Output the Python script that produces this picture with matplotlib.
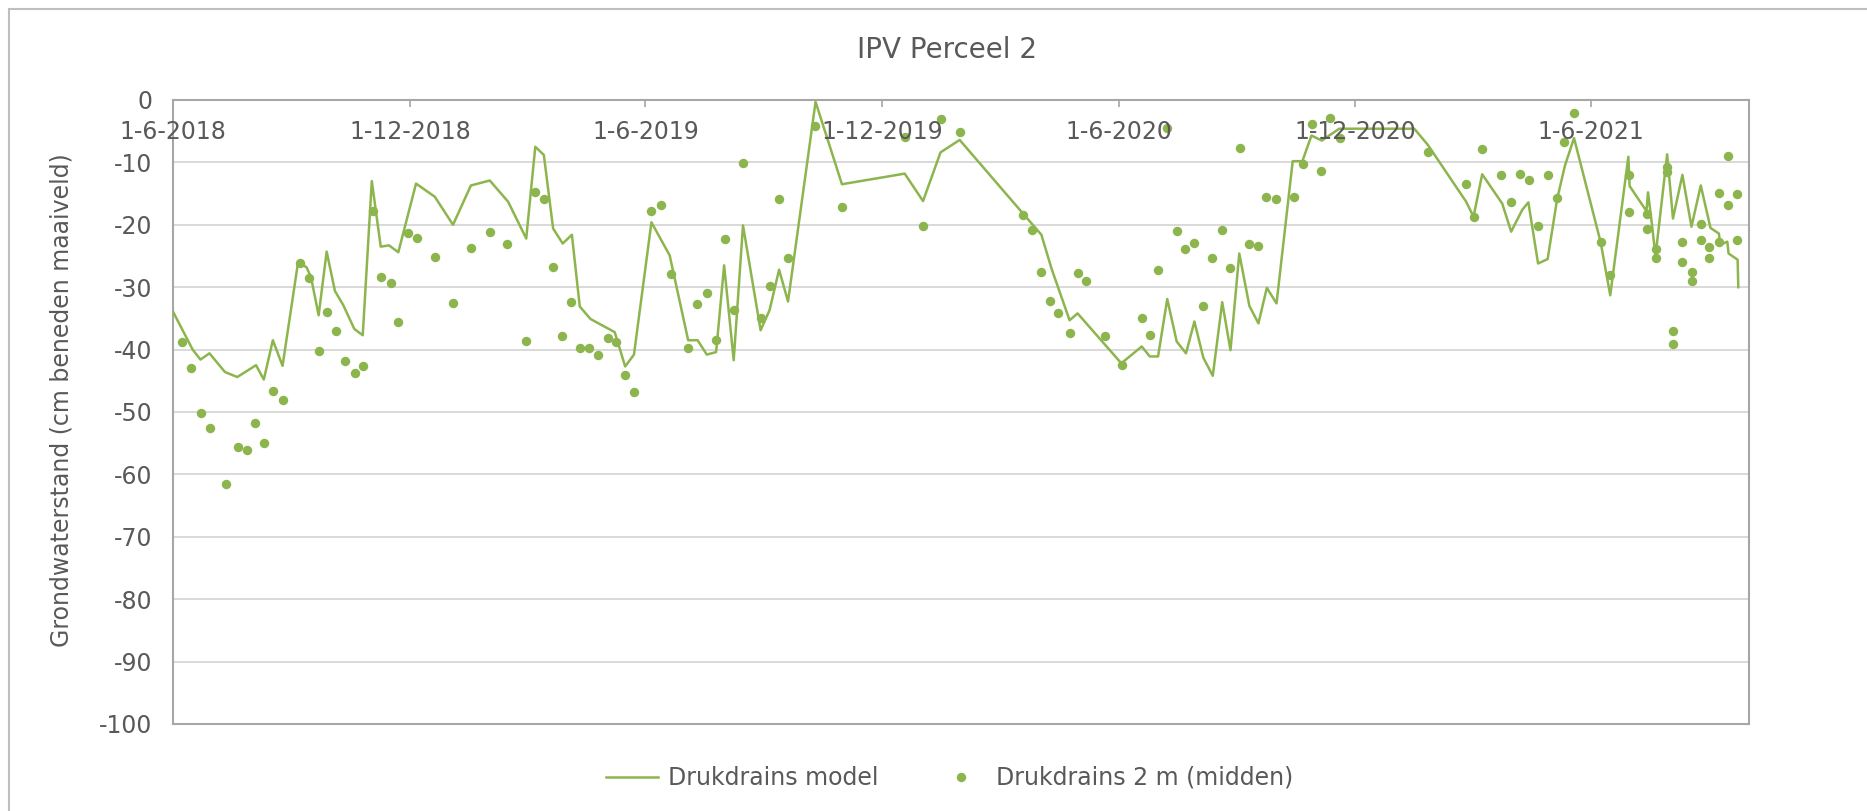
import matplotlib
matplotlib.use("Agg")
import matplotlib.pyplot as plt
import matplotlib.transforms as mtransforms
from matplotlib.patches import Rectangle
import pandas as pd

plt.rcParams['font.family'] = ['DejaVu Sans']
plt.rcParams['axes.unicode_minus'] = False

START = pd.Timestamp("2018-06-01")

# Drukdrains model: days since 1-6-2018 and groundwater level (cm)
model_days = [0, 15, 21, 28, 40, 49.5, 64, 70, 77, 84.5, 96.5, 103, 106.5, 112.4, 118.6,
              125, 131.5, 140, 146.5, 153.5, 160.4, 166.8, 174, 187.7, 202.2, 216.3,
              230.1, 244.7, 258.9, 272.9, 279.9, 286.5, 293.7, 301.1, 308.2, 314.3,
              322.6, 341.3, 349.4, 356.2, 369.7, 383.8, 398.1, 405.4, 412.5, 419.7,
              425.9, 433.3, 440.5, 454.1, 461, 468.4, 475.3, 496.6, 517, 565.5, 579.7,
              593.2, 608, 657, 671.2, 679, 693, 699.2, 733, 748.8, 755, 761.4, 768.5,
              775.8, 783, 789.5, 796.4, 803.7, 811, 817.4, 824.2, 832, 839, 845.5, 853,
              865.5, 873, 880, 888, 901.5, 959.5, 970, 999.6, 1005.3, 1012, 1027.5,
              1034.4, 1043, 1047.7, 1055.2, 1062.6, 1070, 1076, 1083, 1103.6, 1111,
              1125, 1126, 1139, 1140.2, 1143, 1146, 1155, 1159.5, 1166.8, 1173.8, 1181,
              1188.5, 1195, 1196, 1201.5, 1202.5, 1209.5, 1210]
model_level = [-34.0, -40.0, -41.6, -40.6, -43.6, -44.4, -42.5, -44.8, -38.5, -42.6, -26.0,
               -26.8, -28.4, -34.5, -24.3, -30.6, -32.9, -36.7, -37.7, -13.0, -23.5, -23.3,
               -24.4, -13.4, -15.5, -20.0, -13.7, -12.9, -16.3, -22.2, -7.5, -8.8, -20.6,
               -23.0, -21.6, -33.1, -35.1, -37.2, -42.7, -40.8, -19.6, -24.9, -38.5, -38.5,
               -40.8, -40.4, -26.5, -41.7, -20.1, -36.9, -33.7, -27.2, -32.3, -0.3, -13.5,
               -11.8, -16.2, -8.4, -6.4, -18.2, -21.6, -27.0, -35.3, -34.2, -42.2, -39.5,
               -41.1, -41.1, -31.9, -38.7, -40.6, -35.5, -41.3, -44.2, -32.4, -40.1, -24.6,
               -33.0, -35.8, -30.1, -32.6, -9.8, -9.8, -5.7, -6.5, -4.6, -4.6, -7.2, -16.3,
               -18.7, -11.9, -16.6, -21.1, -17.6, -16.4, -26.2, -25.5, -15.8, -10.5, -6.1,
               -22.8, -31.3, -9.1, -13.8, -17.8, -14.8, -19.5, -25.0, -8.7, -19.0, -12.0,
               -20.3, -13.7, -20.5, -21.4, -23.2, -22.7, -24.6, -25.6, -30.0]

# Drukdrains 2 m (midden): measurements
obs_days = [6.7, 13.9, 21.7, 28.4, 41, 50, 56.7, 63.4, 69.9, 77.1, 84.5, 98, 105.2, 112.4,
            118.8, 126, 133, 140.2, 146.9, 154.1, 160.8, 168, 174, 181.3, 188.8, 202.2,
            216.4, 230.2, 244.7, 258.2, 272.8, 279.6, 286.4, 293.7, 300.9, 307.8, 314.3,
            321.4, 328.7, 336.2, 342.1, 349.4, 356.4, 369.6, 377.3, 384.5, 398, 405, 412.4,
            419.6, 426.3, 433.2, 440.4, 454.1, 461, 468.3, 475.2, 496.3, 517, 565.4, 579.6,
            593.3, 607.9, 657.3, 664, 671.2, 677.6, 683.8, 693, 699.5, 705.8, 720, 733.4,
            748.9, 755.1, 761.3, 768.2, 775.7, 782.6, 789.1, 796.3, 803.3, 810.7, 817.2,
            824.4, 831.4, 838.6, 845, 852.5, 866.4, 873.2, 880.2, 887.7, 894.7, 901.8, 970,
            999.2, 1005.3, 1011.7, 1026.7, 1034.4, 1041.2, 1048.2, 1055.2, 1062.5, 1069.7,
            1075.5, 1083.1, 1103.9, 1111, 1125.8, 1125.8, 1139.8, 1139.8, 1146, 1146,
            1154.8, 1154.8, 1159.7, 1159.7, 1166.7, 1166.7, 1174, 1174, 1181.2, 1181.2,
            1187.6, 1187.6, 1194.9, 1195.2, 1202, 1202, 1209.2, 1209.2]
obs_level = [-38.8, -43.0, -50.1, -52.6, -61.6, -55.6, -56.1, -51.8, -55.0, -46.7, -48.1,
             -26.2, -28.5, -40.3, -33.9, -37.0, -41.8, -43.8, -42.6, -17.8, -28.3, -29.4,
             -35.6, -21.3, -22.1, -25.1, -32.6, -23.7, -21.2, -23.0, -38.6, -14.8, -15.8,
             -26.8, -37.9, -32.4, -39.8, -39.8, -40.8, -38.2, -38.8, -44.1, -46.8, -17.8,
             -16.9, -27.9, -39.8, -32.7, -31.0, -38.4, -22.3, -33.7, -10.1, -35.0, -29.8,
             -15.8, -25.4, -4.1, -17.2, -6.0, -20.2, -3.0, -5.2, -18.4, -20.8, -27.5, -32.2,
             -34.2, -37.4, -27.8, -29.0, -37.8, -42.4, -35.0, -37.6, -27.2, -4.5, -21.0,
             -23.9, -22.9, -33.0, -25.4, -20.8, -27.0, -7.7, -23.1, -23.4, -15.5, -15.8,
             -15.5, -10.3, -3.9, -11.4, -2.9, -6.1, -8.3, -13.5, -18.7, -7.9, -12.0, -16.3,
             -11.8, -12.9, -20.2, -12.0, -15.7, -6.8, -2.1, -22.7, -28.0, -12.0, -18.0,
             -18.3, -20.6, -23.8, -25.4, -10.8, -11.6, -37.0, -39.1, -22.7, -25.9, -27.5,
             -29.0, -19.8, -22.5, -23.6, -25.4, -14.9, -22.7, -9.0, -16.9, -15.1, -22.5]

tick_dates = ["2018-06-01", "2018-12-01", "2019-06-01", "2019-12-01",
              "2020-06-01", "2020-12-01", "2021-06-01"]
tick_labels = ["1-6-2018", "1-12-2018", "1-6-2019", "1-12-2019",
               "1-6-2020", "1-12-2020", "1-6-2021"]
y_ticks = list(range(-100, 1, 10))

GREEN = '#8DB54E'
TEXT = '#595959'
GRID = '#D9D9D9'
AXIS = '#A6A6A6'

model_x = START + pd.to_timedelta(model_days, unit='D')
obs_x = START + pd.to_timedelta(obs_days, unit='D')

fig = plt.figure(figsize=(18.67, 8.11), dpi=100)
ax = fig.add_axes([0.0928, 0.1073, 0.9366 - 0.0928, 0.8767 - 0.1073])

ax.plot(model_x, model_level, color=GREEN, lw=1.8, label='Drukdrains model', zorder=3)
ax.plot(obs_x, obs_level, 'o', color=GREEN, ms=6.8, mew=0,
        label='Drukdrains 2 m (midden)', zorder=4)

ax.set_xlim(START, pd.Timestamp("2021-10-01"))
ax.set_ylim(-100, 0)

ax.set_yticks(y_ticks)
ax.set_yticklabels([str(v) for v in y_ticks])
ax.tick_params(axis='y', length=0, pad=15, labelsize=17, labelcolor=TEXT)
ax.yaxis.grid(True, color=GRID, lw=1.4)
ax.set_axisbelow(True)

# date axis sits at 0 (top of the plot); labels hang just below it
ticks = pd.to_datetime(tick_dates)
ax.set_xticks(ticks)
ax.tick_params(axis='x', top=True, bottom=False, labeltop=False, labelbottom=False,
               direction='in', length=5, width=1.2, color=AXIS)
trans = mtransforms.blended_transform_factory(ax.transData, ax.transAxes)
for t, lab in zip(ticks, tick_labels):
    ax.text(t, 1 - 32 / 624, lab, transform=trans, ha='center', va='center',
            fontsize=17, color=TEXT, zorder=5)

for side in ['left', 'top', 'right', 'bottom']:
    ax.spines[side].set_color(AXIS)
    ax.spines[side].set_linewidth(1.5)

fig.text(946.6 / 1867, 1 - 50 / 811, 'IPV Perceel 2', ha='center', va='center',
         fontsize=20, color=TEXT)
fig.text(62 / 1867, 1 - 400 / 811, 'Grondwaterstand (cm beneden maaiveld)',
         rotation=90, ha='center', va='center', fontsize=17, color=TEXT)

fig.legend(loc='center', bbox_to_anchor=(950 / 1867, 1 - 778 / 811), ncol=2,
           frameon=False, fontsize=17, handlelength=2.2, handletextpad=0.4,
           columnspacing=2.4, labelcolor=TEXT)

# light chart border around the whole figure
fig.patches.append(Rectangle((9 / 1867, -0.1), 1.2, 1.1 - 9 / 811 + 0.0,
                             transform=fig.transFigure, fill=False,
                             edgecolor='#BFBFBF', lw=1.5))

fig.savefig('out.png', dpi=100)
